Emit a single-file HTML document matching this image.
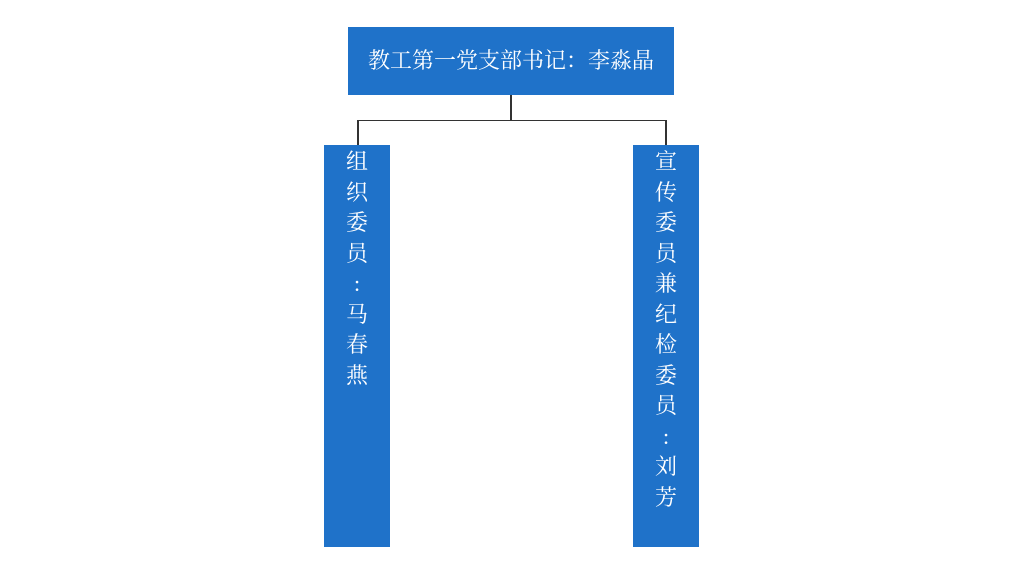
<!DOCTYPE html>
<html><head><meta charset="utf-8"><style>
html,body{margin:0;padding:0;background:#fff;width:1024px;height:576px;overflow:hidden}
.b{position:absolute;background:#1f72c9;color:#fff;font-family:"Liberation Serif","Noto Serif CJK SC",serif;font-size:22px}
.v{text-align:center;line-height:30.5px;box-sizing:border-box;padding-top:2px}
.l{position:absolute;background:#333}
</style></head><body>
<div class="b" style="left:348px;top:27px;width:326px;height:68px;line-height:68px;text-align:center">教工第一党支部书记：李淼晶</div>
<div class="l" style="left:510px;top:95px;width:1.5px;height:25px"></div>
<div class="l" style="left:357px;top:119.5px;width:310px;height:1.5px"></div>
<div class="l" style="left:357px;top:120px;width:1.5px;height:25px"></div>
<div class="l" style="left:665px;top:120px;width:1.5px;height:25px"></div>
<div class="b v" style="left:324px;top:145px;width:66px;height:402px">组<br>织<br>委<br>员<br>:<br>马<br>春<br>燕</div>
<div class="b v" style="left:633px;top:145px;width:66px;height:402px">宣<br>传<br>委<br>员<br>兼<br>纪<br>检<br>委<br>员<br>:<br>刘<br>芳</div>
</body></html>
